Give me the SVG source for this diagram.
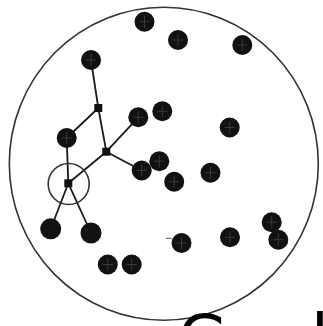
<svg xmlns="http://www.w3.org/2000/svg" width="323" height="326" viewBox="0 0 323 326">
<style>
.dot{fill:#111}
.mk{stroke:#3a3a3a;stroke-width:1;fill:none}
.sq{fill:#111}
.edge{stroke:#1a1a1a;stroke-width:1.8;fill:none}
.ring{stroke:#333;stroke-width:1.6;fill:none}
.lbl{font-family:"DejaVu Sans",sans-serif;font-size:64px;fill:#000}
</style>
<defs>
<g id="d"><circle class="dot" r="10"/><path class="mk" d="M0,-6V6M-5,0H5"/></g>
</defs>
<rect width="323" height="326" fill="#fff"/>
<ellipse id="boundary" class="ring" cx="163.8" cy="163.7" rx="154.5" ry="156.5"/>
<g id="connectors">
<line class="edge" x1="91" y1="60" x2="98.3" y2="108"/>
<line class="edge" x1="98.3" y1="108" x2="66.7" y2="138"/>
<line class="edge" x1="98.3" y1="108" x2="106.3" y2="151.7"/>
<line class="edge" x1="106.3" y1="151.7" x2="138.3" y2="117.3"/>
<line class="edge" x1="106.3" y1="151.7" x2="141.7" y2="170.5"/>
<line class="edge" x1="106.3" y1="151.7" x2="68.3" y2="183.3"/>
<line class="edge" x1="66.7" y1="138" x2="68.3" y2="183.3"/>
<line class="edge" x1="68.3" y1="183.3" x2="50.7" y2="229"/>
<line class="edge" x1="68.3" y1="183.3" x2="91" y2="233"/>
<line stroke="#555" stroke-width="1" x1="166" y1="238.3" x2="171.5" y2="238.3"/>
</g>
<g id="hub-ring"><circle class="ring" cx="68.7" cy="184" r="20.5"/></g>
<g id="n1"><use href="#d" x="144.5" y="21.7"/></g>
<g id="n2"><use href="#d" x="178" y="40"/></g>
<g id="n3"><use href="#d" x="242.3" y="45"/></g>
<g id="n4"><use href="#d" x="91" y="60"/></g>
<g id="s1"><rect class="sq" x="94.3" y="104" width="8" height="8"/></g>
<g id="n5"><use href="#d" x="138.3" y="117.3"/></g>
<g id="n6"><use href="#d" x="162.3" y="111.3"/></g>
<g id="n7"><use href="#d" x="229.7" y="127.5"/></g>
<g id="n8"><use href="#d" x="66.7" y="138"/></g>
<g id="s2"><rect class="sq" x="102.3" y="147.7" width="8" height="8"/></g>
<g id="n10"><use href="#d" x="159.3" y="161.2"/></g>
<g id="n9"><use href="#d" x="141.7" y="170.5"/></g>
<g id="n11"><use href="#d" x="174.2" y="181.7"/></g>
<g id="n12"><use href="#d" x="210.5" y="172.7"/></g>
<g id="s3"><rect class="sq" x="64.3" y="179.3" width="8" height="8"/></g>
<g id="n13"><circle class="dot" cx="50.7" cy="228.8" r="10.5"/></g>
<g id="n14"><circle class="dot" cx="91" cy="233" r="10.5"/></g>
<g id="n15"><use href="#d" x="107.8" y="264.5"/></g>
<g id="n16"><use href="#d" x="131.7" y="264.5"/></g>
<g id="n17"><use href="#d" x="181.5" y="243"/></g>
<g id="n18"><use href="#d" x="230" y="237.3"/></g>
<g id="n19"><use href="#d" x="271.7" y="222.2"/></g>
<g id="n20"><use href="#d" x="278.3" y="239.7"/></g>
<text class="lbl" x="178" y="361">G</text>
<text class="lbl" x="311" y="360">l</text>
</svg>
